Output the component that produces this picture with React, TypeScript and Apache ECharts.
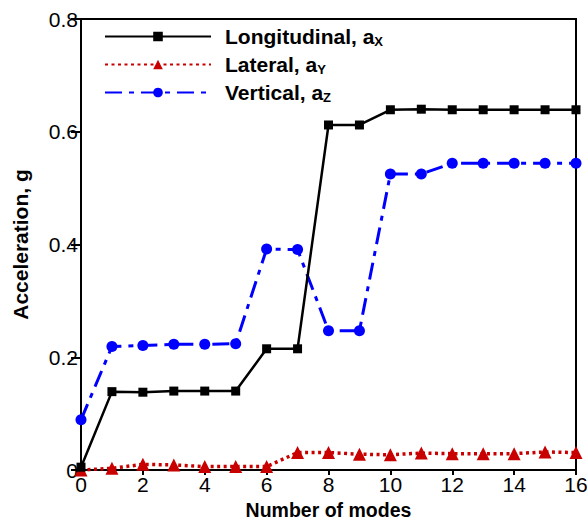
import React, { useEffect, useRef } from "react";
import * as echarts from "echarts";

// Number of modes included
const modes = [0, 1, 2, 3, 4, 5, 6, 7, 8, 9, 10, 11, 12, 13, 14, 15, 16];

// Peak acceleration (g) per direction
const longitudinal = [0.005, 0.139, 0.138, 0.14, 0.14, 0.14, 0.215, 0.215, 0.612, 0.612, 0.639, 0.64, 0.639, 0.639, 0.639, 0.639, 0.639];
const lateral = [0.0, 0.003, 0.01, 0.009, 0.006, 0.006, 0.006, 0.031, 0.031, 0.028, 0.027, 0.03, 0.029, 0.029, 0.029, 0.032, 0.031];
const vertical = [0.089, 0.219, 0.221, 0.223, 0.223, 0.224, 0.392, 0.391, 0.247, 0.247, 0.525, 0.525, 0.544, 0.544, 0.544, 0.544, 0.544];

const seriesNames = ["Longitudinal", "Lateral", "Vertical"];
const subscripts: Record<string, string> = { Longitudinal: "X", Lateral: "Y", Vertical: "Z" };

const FONT = "Liberation Sans, Arial, sans-serif";

export default function App() {
  const ref = useRef<HTMLDivElement>(null);

  useEffect(() => {
    if (!ref.current) return;
    const chart = echarts.init(ref.current, null, { renderer: "svg" });
    const pair = (ys: number[]) => modes.map((m, i) => [m, ys[i]]);

    chart.setOption({
      animation: false,
      backgroundColor: "#fff",
      textStyle: { fontFamily: FONT },
      grid: {
        left: 81,
        right: 11,
        top: 19,
        bottom: 49,
        show: true,
        borderColor: "#000",
        borderWidth: 2,
        containLabel: false,
        outerBoundsMode: "none",
      },
      legend: {
        data: seriesNames,
        orient: "vertical",
        left: 99,
        top: 21,
        itemWidth: 106,
        itemHeight: 12,
        itemGap: 6,
        textStyle: {
          fontFamily: FONT,
          fontSize: 21,
          fontWeight: "bold",
          color: "#000",
          padding: [0, 0, 0, 9],
          rich: {
            b: { fontFamily: FONT, fontSize: 21, fontWeight: "bold", color: "#000" },
            sub: {
              fontFamily: FONT,
              fontSize: 13,
              fontWeight: "bold",
              color: "#000",
              padding: [10, 0, 0, 0],
            },
          },
        },
        formatter: (name: string) => `{b|${name}, a}{sub|${subscripts[name]}}`,
      },
      xAxis: {
        type: "value",
        min: 0,
        max: 16,
        interval: 2,
        name: "Number of modes",
        nameLocation: "middle",
        nameGap: 25,
        nameTextStyle: {
          fontFamily: FONT,
          fontSize: 19.5,
          lineHeight: 19,
          fontWeight: "bold",
          color: "#000",
        },
        axisLine: { show: true, lineStyle: { color: "#000", width: 2 } },
        axisTick: { show: true, length: 5, lineStyle: { color: "#000", width: 2 } },
        axisLabel: { fontFamily: FONT, fontSize: 21, color: "#000", margin: 4 },
        splitLine: { show: false },
      },
      yAxis: {
        type: "value",
        min: 0,
        max: 0.8,
        interval: 0.2,
        name: "Acceleration, g",
        nameLocation: "middle",
        nameGap: 50,
        nameTextStyle: { fontFamily: FONT, fontSize: 21, fontWeight: "bold", color: "#000" },
        axisLine: { show: true, lineStyle: { color: "#000", width: 2 } },
        axisTick: { show: true, length: 10, lineStyle: { color: "#000", width: 2 } },
        axisLabel: {
          fontFamily: FONT,
          fontSize: 21,
          color: "#000",
          margin: 3,
          formatter: (v: number) => (v === 0 ? "0" : v.toFixed(1)),
        },
        splitLine: { show: false },
      },
      series: [
        {
          name: "Longitudinal",
          type: "line",
          data: pair(longitudinal),
          symbol: "rect",
          symbolSize: 9,
          color: "#000",
          lineStyle: { color: "#000", width: 2.5, type: "solid" },
          itemStyle: { color: "#000" },
          z: 3,
        },
        {
          name: "Lateral",
          type: "line",
          data: pair(lateral),
          symbol: "triangle",
          symbolSize: 13,
          color: "#c80000",
          lineStyle: { color: "#c80000", width: 3.5, type: [3, 3.5] },
          itemStyle: { color: "#c80000" },
          z: 2,
        },
        {
          name: "Vertical",
          type: "line",
          data: pair(vertical),
          symbol: "circle",
          symbolSize: 11,
          color: "#0000ff",
          lineStyle: { color: "#0000ff", width: 3, type: [17, 7, 5, 7] },
          itemStyle: { color: "#0000ff" },
          z: 2,
        },
      ],
    });

    return () => chart.dispose();
  }, []);

  return (
    <div
      ref={ref}
      style={{ position: "fixed", left: 0, top: 0, width: 587, height: 519, background: "#fff" }}
    />
  );
}
